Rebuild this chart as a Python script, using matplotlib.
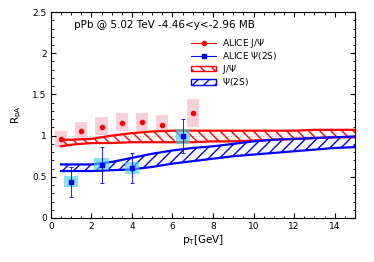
import numpy as np
import matplotlib.pyplot as plt
from matplotlib.patches import Patch
from matplotlib.lines import Line2D
from matplotlib.ticker import MultipleLocator, FormatStrFormatter

plt.rcParams['hatch.linewidth'] = 1.0

# ALICE J/psi
jpsi_x = [0.5, 1.5, 2.5, 3.5, 4.5, 5.5, 7.0]
jpsi_y = [0.96, 1.05, 1.11, 1.15, 1.16, 1.13, 1.27]
jpsi_sys_lo = [0.86, 0.96, 1.01, 1.05, 1.06, 1.05, 1.10]
jpsi_sys_hi = [1.06, 1.16, 1.22, 1.27, 1.28, 1.25, 1.44]

# ALICE psi(2S)
psi_x = [1.0, 2.5, 4.0, 6.5]
psi_y = [0.44, 0.64, 0.61, 0.99]
psi_err_lo = [0.26, 0.42, 0.43, 0.79]
psi_err_hi = [0.62, 0.86, 0.79, 1.20]
psi_sys_lo = [0.38, 0.58, 0.54, 0.90]
psi_sys_hi = [0.51, 0.73, 0.68, 1.08]

# theory bands
band_x = [0.5, 1, 2, 3, 4, 5, 6, 7, 8, 9, 10, 11, 12, 13, 14, 15]
jband_hi = [0.95, 0.95, 0.96, 1.00, 1.03, 1.05, 1.06, 1.06, 1.06, 1.06, 1.06, 1.06, 1.06, 1.07, 1.07, 1.07]
jband_lo = [0.87, 0.89, 0.91, 0.91, 0.92, 0.92, 0.92, 0.92, 0.93, 0.93, 0.94, 0.95, 0.96, 0.97, 0.98, 0.98]
pband_hi = [0.65, 0.65, 0.65, 0.68, 0.73, 0.78, 0.82, 0.85, 0.87, 0.90, 0.93, 0.95, 0.96, 0.97, 0.98, 0.99]
pband_lo = [0.57, 0.57, 0.57, 0.58, 0.59, 0.62, 0.66, 0.69, 0.72, 0.75, 0.77, 0.79, 0.81, 0.83, 0.85, 0.86]

fig = plt.figure(figsize=(3.74, 2.62), dpi=100)
ax = fig.add_axes([0.136, 0.168, 0.813, 0.786])

ax.axhline(1.0, color='#bbbbbb', ls=':', lw=0.8, zorder=0)

# sys boxes
for x, lo, hi in zip(jpsi_x, jpsi_sys_lo, jpsi_sys_hi):
    ax.add_patch(plt.Rectangle((x - 0.3, lo), 0.6, hi - lo, fc='#f9c8d0', ec='none', alpha=0.85, zorder=1))
for x, lo, hi in zip(psi_x, psi_sys_lo, psi_sys_hi):
    ax.add_patch(plt.Rectangle((x - 0.35, lo), 0.7, hi - lo, fc='#40d0e8', ec='none', alpha=0.65, zorder=3.5))

# bands
ax.fill_between(band_x, jband_lo, jband_hi, facecolor='none', edgecolor='red', hatch='\\\\\\', lw=0, zorder=2)
ax.plot(band_x, jband_hi, color='red', lw=1.6, zorder=3)
ax.plot(band_x, jband_lo, color='red', lw=1.6, zorder=3)
ax.fill_between(band_x, pband_lo, pband_hi, facecolor='none', edgecolor='blue', hatch='///', lw=0, zorder=2)
ax.plot(band_x, pband_hi, color='blue', lw=1.6, zorder=3)
ax.plot(band_x, pband_lo, color='blue', lw=1.6, zorder=3)

# data points
ax.plot(jpsi_x, jpsi_y, 'o', color='red', ms=3, zorder=4)
yerr = [np.array(psi_y) - np.array(psi_err_lo), np.array(psi_err_hi) - np.array(psi_y)]
ax.errorbar(psi_x, psi_y, yerr=yerr, fmt='s', color='blue', ms=3, capsize=1.5, elinewidth=0.6,
            capthick=0.6, zorder=4)

ax.set_xlim(0, 15)
ax.set_ylim(0, 2.5)
ax.xaxis.set_major_locator(MultipleLocator(2))
ax.xaxis.set_minor_locator(MultipleLocator(0.5))
ax.yaxis.set_major_locator(MultipleLocator(0.5))
ax.yaxis.set_minor_locator(MultipleLocator(0.1))
ax.yaxis.set_major_formatter(FormatStrFormatter('%g'))
ax.tick_params(which='both', direction='in', top=True, right=True, labelsize=6.5, pad=3)
ax.tick_params(which='major', length=3.5)
ax.tick_params(which='minor', length=1.8)
for s in ax.spines.values():
    s.set_linewidth(0.8)

ax.set_xlabel(r'p$_\mathrm{T}$[GeV]', fontsize=7.5, labelpad=1)
ax.set_ylabel(r'R$_\mathrm{pA}$', fontsize=7.5, labelpad=6)

ax.text(0.075, 0.935, 'pPb @ 5.02 TeV -4.46<y<-2.96 MB', transform=ax.transAxes, fontsize=7.5, va='center')

h1 = Line2D([], [], marker='o', color='red', ms=3, lw=0.8)
h2 = Line2D([], [], marker='s', color='blue', ms=3, lw=0.8)
h3 = Patch(facecolor='white', edgecolor='red', hatch='\\\\\\', lw=1.0)
h4 = Patch(facecolor='white', edgecolor='blue', hatch='///', lw=1.0)
ax.legend([h1, h2, h3, h4], ['ALICE J/$\\Psi$', 'ALICE $\\Psi$(2S)', 'J/$\\Psi$', '$\\Psi$(2S)'],
          loc='upper left', bbox_to_anchor=(0.44, 0.91), frameon=False, fontsize=6.5,
          handlelength=2.8, handleheight=0.6, labelspacing=0.05, borderpad=0.2, handletextpad=0.6)

fig.savefig('out.png', dpi=100)
